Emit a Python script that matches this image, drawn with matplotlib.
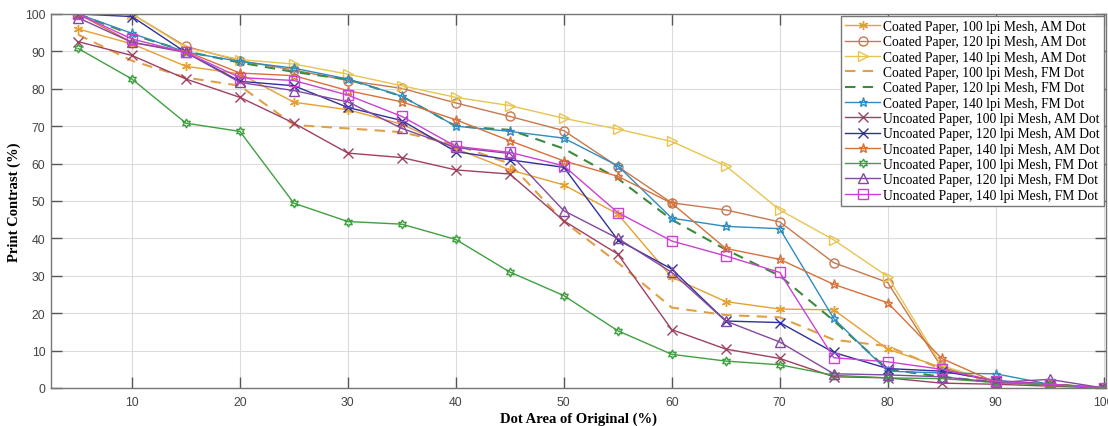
import numpy as np
import matplotlib.pyplot as plt

# dot area of original (%)
dot_area = [5, 10, 15, 20, 25, 30, 35, 40, 45, 50, 55, 60, 65, 70, 75, 80, 85, 90, 95, 100]

coated_100_am = [96, 92, 86, 84, 76.4, 74.4, 70.5, 64, 58.3, 54.3, 46.5, 29.6, 23.1, 21.1, 20.9, 10.4, 5.5, 1.5, 1, 0]
coated_120_am = [100, 100, 91.3, 87.5, 85, 82.2, 80.1, 76.2, 72.6, 68.8, 59.2, 49.5, 47.6, 44.4, 33.5, 28.2, 5.5, 1.5, 1, 0]
coated_140_am = [100, 100, 91, 87.8, 86.6, 83.9, 80.8, 77.7, 75.5, 72.1, 69.2, 65.9, 59.4, 47.6, 39.6, 29.8, 6, 1.5, 1, 0]
coated_100_fm = [94.5, 87.5, 83, 80.8, 70.3, 69.4, 68.4, 65, 60, 44.5, 33.5, 21.5, 19.5, 18.9, 12.9, 11.2, 5, 1.5, 1, 0]
coated_120_fm = [100, 94.5, 90, 87, 84.5, 82.5, 78, 70, 69, 64, 56, 45, 37, 30, 18, 5, 3, 1.5, 1, 0]
coated_140_fm = [100, 94.8, 89.8, 87.3, 85.5, 82.6, 78, 70, 68.6, 66.8, 59.4, 45.4, 43.2, 42.6, 18.6, 4.5, 4, 3.8, 1, 0]
uncoated_100_am = [92.6, 88.9, 82.6, 77.7, 70.8, 62.8, 61.6, 58.3, 57.2, 44.7, 35.8, 15.6, 10.4, 7.9, 3, 2.7, 1.3, 1, 0.5, 0]
uncoated_120_am = [100, 99.3, 89.7, 82, 80.8, 75, 71.5, 63.2, 61, 59, 39.6, 31.8, 17.9, 17.5, 9.5, 5.2, 4.5, 2, 1, 0]
uncoated_140_am = [100, 92.4, 90, 84.2, 83.5, 79.5, 76.5, 71.7, 66.1, 60.7, 56.6, 49.4, 37.3, 34.4, 27.7, 22.8, 7.9, 1.5, 1, 0]
uncoated_100_fm = [90.8, 82.6, 70.8, 68.6, 49.4, 44.5, 43.8, 39.7, 31, 24.7, 15.3, 9, 7.2, 6.2, 3.4, 2.7, 2.5, 1.5, 0.8, 0]
uncoated_120_fm = [99, 92.4, 89.7, 81.7, 79.5, 76.5, 69.4, 64.3, 62.7, 47.4, 40, 30.9, 17.9, 12.3, 3.8, 3.5, 3, 1.5, 2.3, 0]
uncoated_140_fm = [100, 93.3, 89.7, 83, 82.2, 78.3, 72.6, 64.6, 63, 59.4, 46.9, 39.3, 35.3, 30.9, 8.1, 7, 5, 1.8, 1, 0]

labels = [
    'Coated Paper, 100 lpi Mesh, AM Dot',
    'Coated Paper, 120 lpi Mesh, AM Dot',
    'Coated Paper, 140 lpi Mesh, AM Dot',
    'Coated Paper, 100 lpi Mesh, FM Dot',
    'Coated Paper, 120 lpi Mesh, FM Dot',
    'Coated Paper, 140 lpi Mesh, FM Dot',
    'Uncoated Paper, 100 lpi Mesh, AM Dot',
    'Uncoated Paper, 120 lpi Mesh, AM Dot',
    'Uncoated Paper, 140 lpi Mesh, AM Dot',
    'Uncoated Paper, 100 lpi Mesh, FM Dot',
    'Uncoated Paper, 120 lpi Mesh, FM Dot',
    'Uncoated Paper, 140 lpi Mesh, FM Dot',
]
series = [coated_100_am, coated_120_am, coated_140_am, coated_100_fm, coated_120_fm, coated_140_fm,
          uncoated_100_am, uncoated_120_am, uncoated_140_am, uncoated_100_fm, uncoated_120_fm, uncoated_140_fm]

colors = ['#E6A030', '#C8784E', '#E8C450', '#E0A048', '#3E8A3E', '#2E8CC0',
          '#A04060', '#30309A', '#D8703A', '#40A040', '#8448A0', '#CC40D4']
markers = [(6, 2, 0), 'o', '>', None, None, '*', 'x', 'x', '*', (6, 1, 0), '^', 's']
styles = ['-', '-', '-', '--', '--', '-', '-', '-', '-', '-', '-', '-']

fig = plt.figure(figsize=(11.08, 4.27), dpi=100)
ax = fig.add_axes([0.046, 0.089, 0.952, 0.876])

for ys, lab, c, m, ls in zip(series, labels, colors, markers, styles):
    if ls == '--':
        ax.plot(dot_area, ys, color=c, linewidth=1.5, dashes=(5, 3.5), label=lab)
    else:
        ax.plot(dot_area, ys, color=c, marker=m, markersize=6.5,
                markerfacecolor='none', markeredgecolor=c, markeredgewidth=1.0,
                linewidth=1.0, label=lab)

ax.set_xlim(2.5, 100.2)
ax.set_ylim(0, 100)
ax.set_xticks(range(10, 101, 10))
ax.set_yticks(range(0, 101, 10))
ax.grid(True, color='#dcdcdc', linewidth=0.8)
ax.set_axisbelow(True)
ax.tick_params(direction='in', length=8, width=1, color='#555555', labelcolor='#444444',
               top=True, right=True, labelsize=8.8)
ax.tick_params(axis='x', pad=6)
ax.tick_params(axis='y', pad=4)
for lbl in ax.get_xticklabels() + ax.get_yticklabels():
    lbl.set_family('Liberation Sans')
for sp in ax.spines.values():
    sp.set_color('#777777')
    sp.set_linewidth(1.0)

ax.set_xlabel('Dot Area of Original (%)', family='Liberation Serif', fontweight='bold', fontsize=10.5, labelpad=2)
ax.set_ylabel('Print Contrast (%)', family='Liberation Serif', fontweight='bold', fontsize=10.5)
ax.yaxis.set_label_coords(-0.028, 0.5)

leg = ax.legend(loc='upper right', prop={'family': 'Liberation Serif', 'size': 9.8},
                fancybox=False, framealpha=1, edgecolor='#777777', borderaxespad=0.15,
                labelspacing=0.17, handlelength=2.6, handletextpad=0.2, borderpad=0.3)
leg.get_frame().set_linewidth(1.0)

fig.savefig('out.png', dpi=100)
